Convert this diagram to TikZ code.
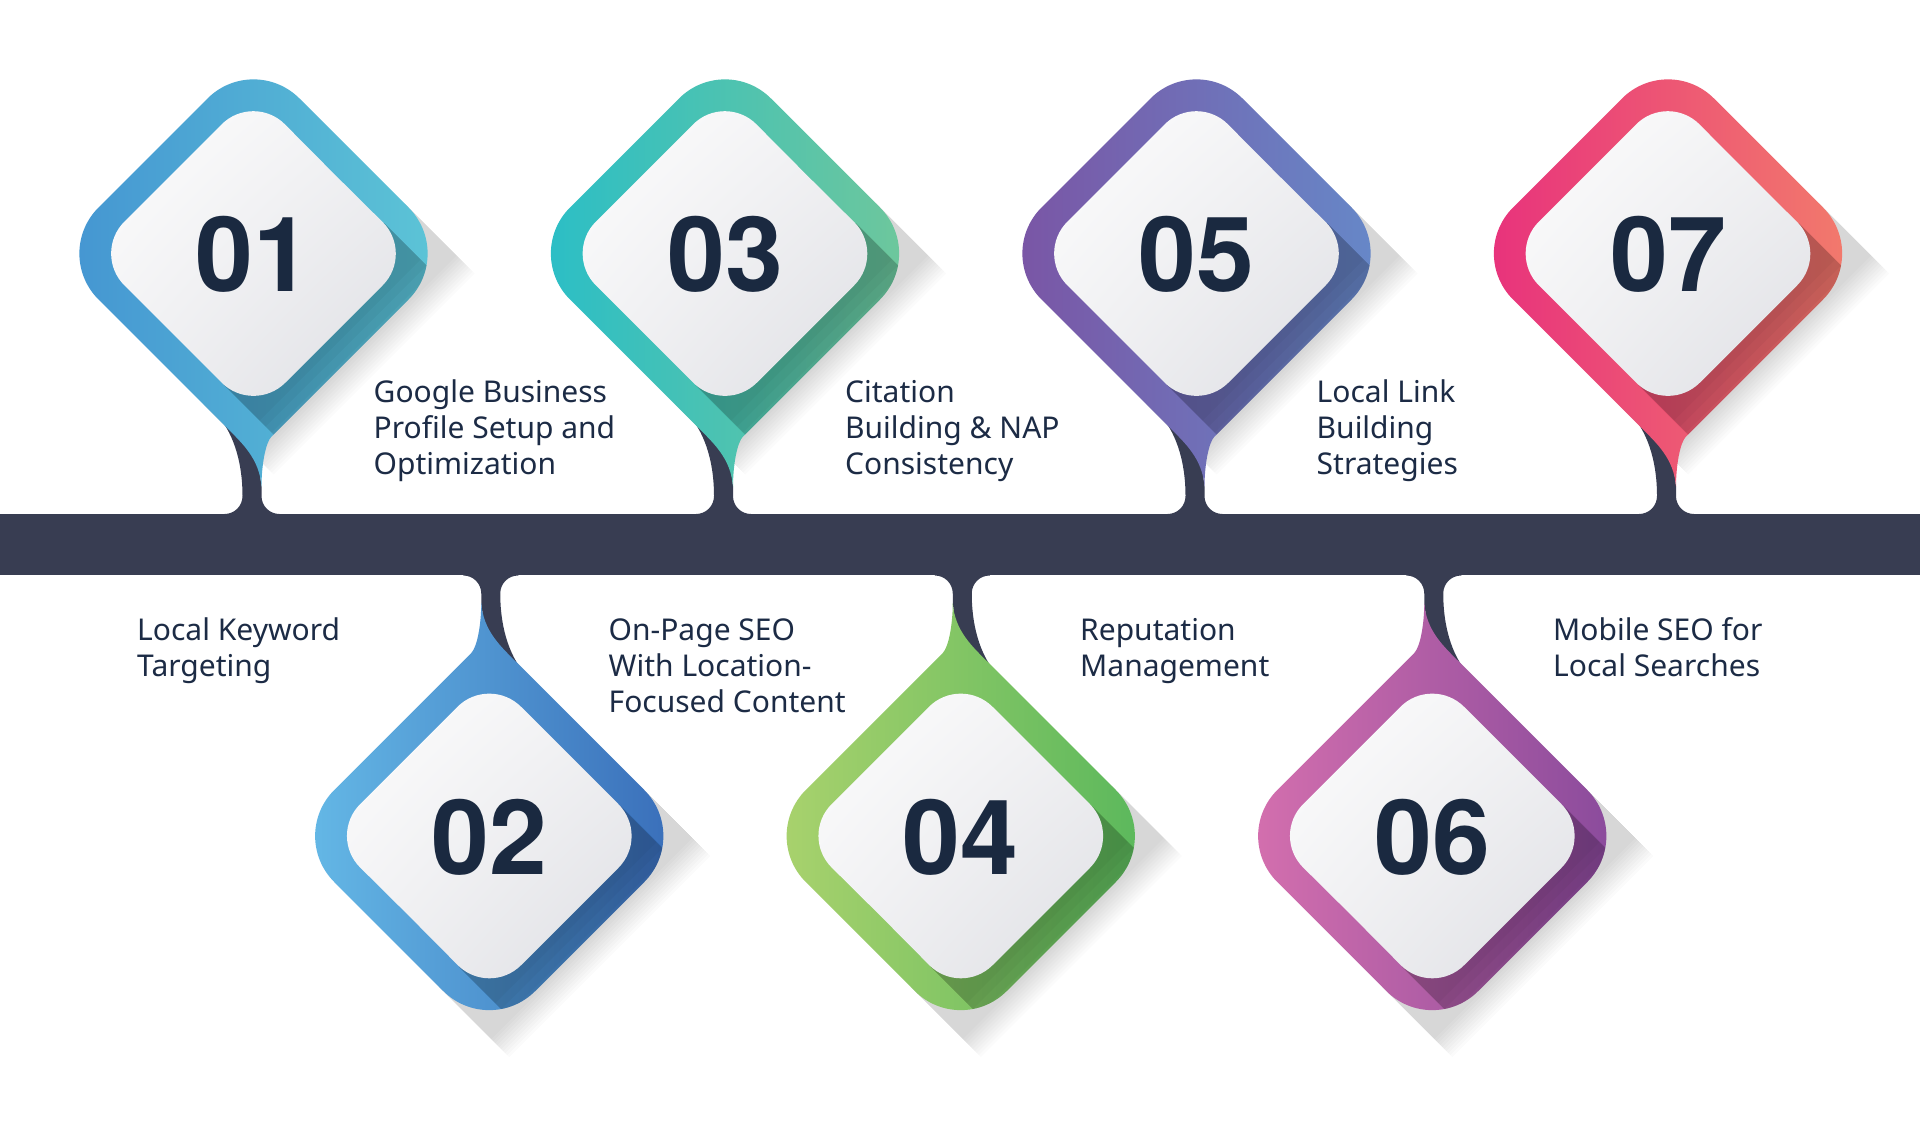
\documentclass[tikz,border=0pt]{standalone}
\usepackage{fontspec}
\setmainfont{Noto Sans}
\newfontfamily\numfont{TeX Gyre Heros}
\usetikzlibrary{shadings}
\definecolor{barc}{HTML}{383D52}
\definecolor{txt}{HTML}{1C2B45}
\definecolor{numc}{HTML}{1A2940}
\definecolor{tileM}{HTML}{F1F1F3}
\definecolor{tileD}{HTML}{DCDDE2}
\definecolor{aL}{HTML}{4596D2}\definecolor{aR}{HTML}{5CC4D6}
\definecolor{bL}{HTML}{64B8E6}\definecolor{bR}{HTML}{3A6FBA}
\definecolor{cL}{HTML}{2BBEC6}\definecolor{cR}{HTML}{6EC79C}
\definecolor{dL}{HTML}{A9D26D}\definecolor{dR}{HTML}{5BB85C}
\definecolor{eL}{HTML}{7A55A5}\definecolor{eR}{HTML}{6688C8}
\definecolor{fL}{HTML}{D46FAE}\definecolor{fR}{HTML}{8A4B9C}
\definecolor{gL}{HTML}{E8327C}\definecolor{gR}{HTML}{F27A6C}
\newcommand\outerpath{(-27,174) -- (-155,46) .. controls (-180.5,20.5) and (-180.5,-20.5) .. (-155,-46) -- (-46,-155) .. controls (-20.5,-180.5) and (20.5,-180.5) .. (46,-155) -- (155,-46) .. controls (180.5,-20.5) and (180.5,20.5) .. (155,46) -- (18,183) .. controls (12,189) and (8,212) .. (8,233) .. controls (6,205) and (-12,189) .. (-27,174) -- cycle}
\newcommand\innerpath{(80,-80) [rounded corners=45] -- (161,0) -- (0,161) -- (-161,0) -- (0,-161) -- cycle}
\newcommand\stempath{(-29,266) -- (-29,260.5) .. controls (-19,260.5) and (-11,252.5) .. (-11,242.5) .. controls (-11,205) and (-22,176) .. (-38,160) -- (0,170) -- (8,233) -- (8,242.5) .. controls (8,252.5) and (16,260.5) .. (26,260.5) -- (26,266) -- cycle}
\tikzset{
  toprow/.style={x=1pt,y=-1pt},
  botrow/.style={x=-1pt,y=1pt},
  numtxt/.style={font=\numfont\bfseries\fontsize{104}{104}\selectfont, text=numc, inner sep=0pt},
  lbl/.style={font=\fontsize{30}{36}\selectfont, text=txt, align=left, inner sep=0pt, anchor=north west}
}
% #1 cx, #2 cy, #3 row style, #4 left colour, #5 right colour, #6 number, #7 name
\newcommand\stage[7]{%
  \begin{scope}[shift={(#1,#2)}, toprow]
    \foreach \t in {2,4,...,20}
      \fill[black, opacity=0.016] (151,-50) -- (-50,151) -- (\t,{201+\t}) -- ({201+\t},\t) -- cycle;
  \end{scope}
  \begin{scope}[shift={(#1,#2)}, #3]
    \fill[barc] \stempath;
    \shade[left color=#4, right color=#5] \outerpath;
    \begin{scope}
      \clip \outerpath;
      \begin{scope}[toprow]
        \foreach \t in {6,12,...,48}
          \fill[black, opacity=0.03] (131,-30) -- (-30,131) -- (\t,{161+\t}) -- ({161+\t},\t) -- cycle;
      \end{scope}
    \end{scope}
    \shade[upper left=white, upper right=tileM, lower left=tileM, lower right=tileD] \innerpath;
  \end{scope}
  \node[numtxt] (#7) at (#1,{#2+1}) {#6};
}
\begin{document}
\begin{tikzpicture}[x=1pt,y=-1pt]
\useasboundingbox (0,0) rectangle (1920,1126);
\fill[white] (0,0) rectangle (1920,1126);
\fill[barc] (0,514) rectangle (1920,575);
\stage{253.5}{253.5}{toprow}{aL}{aR}{01}{n01}
\stage{489.25}{836}{botrow}{bL}{bR}{02}{n02}
\stage{725}{253.5}{toprow}{cL}{cR}{03}{n03}
\stage{960.75}{836}{botrow}{dL}{dR}{04}{n04}
\stage{1196.5}{253.5}{toprow}{eL}{eR}{05}{n05}
\stage{1432.25}{836}{botrow}{fL}{fR}{06}{n06}
\stage{1668}{253.5}{toprow}{gL}{gR}{07}{n07}
\node[lbl] (t1) at (373.5,378) {\rule{0pt}{24pt}Google Business\\Profile Setup and\\Optimization};
\node[lbl] (t3) at (845,378) {\rule{0pt}{24pt}Citation\\Building \& NAP\\Consistency};
\node[lbl] (t5) at (1316.5,378) {\rule{0pt}{24pt}Local Link\\Building\\Strategies};
\node[lbl] (t2) at (137,616) {\rule{0pt}{24pt}Local Keyword\\Targeting};
\node[lbl] (t4) at (608.5,616) {\rule{0pt}{24pt}On-Page SEO\\With Location-\\Focused Content};
\node[lbl] (t6) at (1080,616) {\rule{0pt}{24pt}Reputation\\Management};
\node[lbl] (t7) at (1553,616) {\rule{0pt}{24pt}Mobile SEO for\\Local Searches};
\end{tikzpicture}
\end{document}
